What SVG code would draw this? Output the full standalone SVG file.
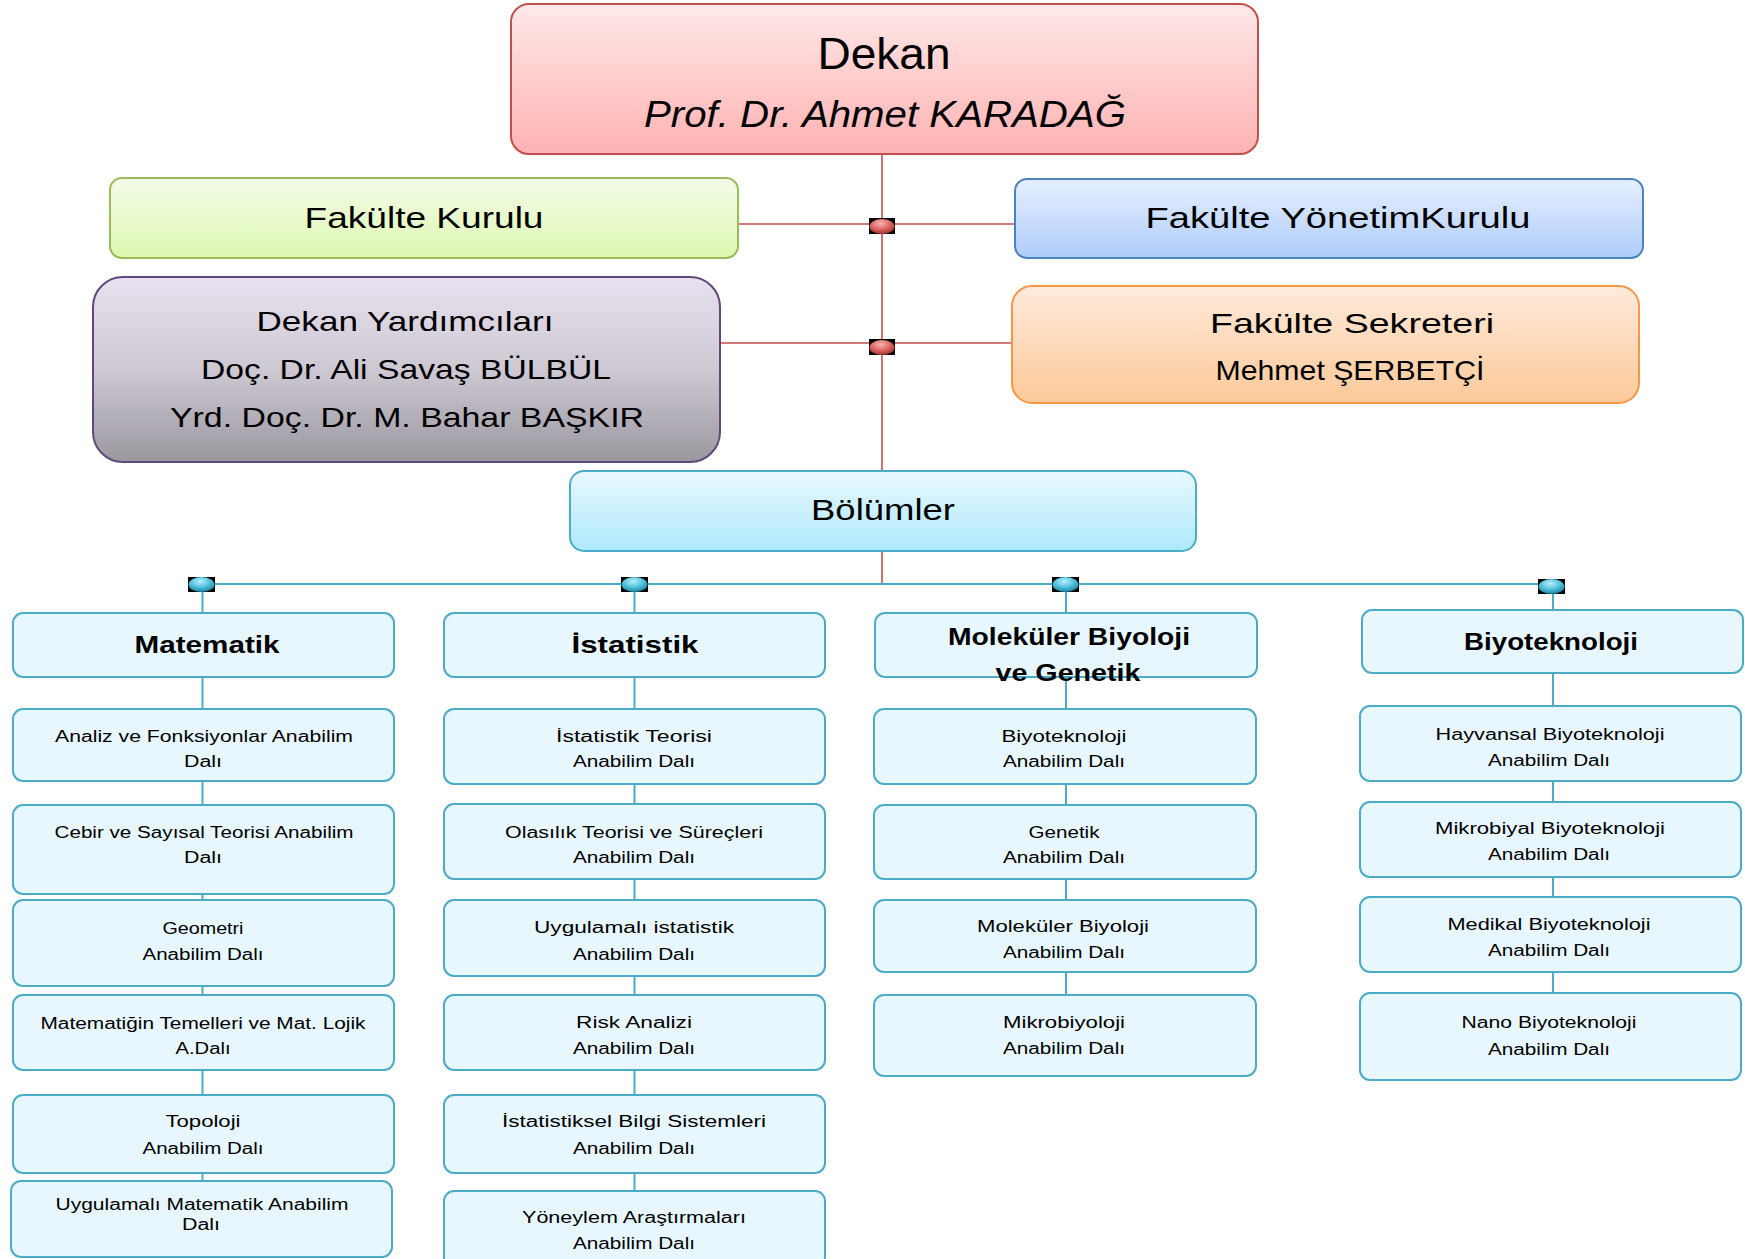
<svg xmlns="http://www.w3.org/2000/svg" width="1745" height="1259" viewBox="0 0 1745 1259">
<defs>
<style>
.t{font-family:"Liberation Sans",Arial,sans-serif;fill:#000;text-anchor:middle}
.c{font-size:16px}
.h{font-size:24px;font-weight:bold}
.dep{fill:#e7f7fd;stroke:#4bacc6;stroke-width:2}
.red{stroke:#c0504d;stroke-width:1.6;fill:none}
.teal{stroke:#4bacc6;stroke-width:2;fill:none}
</style>
<linearGradient id="gRed" x1="0" y1="0" x2="0" y2="1"><stop offset="0" stop-color="#ffe8e8"/><stop offset="1" stop-color="#ffb2b2"/></linearGradient>
<linearGradient id="gGreen" x1="0" y1="0" x2="0" y2="1"><stop offset="0" stop-color="#f3fbe8"/><stop offset="1" stop-color="#ddf8b0"/></linearGradient>
<linearGradient id="gBlue" x1="0" y1="0" x2="0" y2="1"><stop offset="0" stop-color="#e6efff"/><stop offset="1" stop-color="#aecdfa"/></linearGradient>
<linearGradient id="gPurple" x1="0" y1="0" x2="0" y2="1"><stop offset="0" stop-color="#e8e2f0"/><stop offset="0.5" stop-color="#cdc8d2"/><stop offset="1" stop-color="#9b979f"/></linearGradient>
<linearGradient id="gOrange" x1="0" y1="0" x2="0" y2="1"><stop offset="0" stop-color="#ffeadc"/><stop offset="1" stop-color="#fcc998"/></linearGradient>
<linearGradient id="gCyan" x1="0" y1="0" x2="0" y2="1"><stop offset="0" stop-color="#e8f9fe"/><stop offset="1" stop-color="#ade9fb"/></linearGradient>
<radialGradient id="kRed" cx="0.45" cy="0.3" r="0.7"><stop offset="0" stop-color="#f9b4b4"/><stop offset="0.6" stop-color="#d9605c"/><stop offset="1" stop-color="#9c3532"/></radialGradient>
<radialGradient id="kCyan" cx="0.45" cy="0.3" r="0.7"><stop offset="0" stop-color="#b6f0fb"/><stop offset="0.6" stop-color="#48bcd8"/><stop offset="1" stop-color="#1d7f9c"/></radialGradient>
</defs>

<g id="connectors">
<line class="red" x1="882" y1="154" x2="882" y2="584"/>
<line class="red" x1="738" y1="224" x2="1015" y2="224"/>
<line class="red" x1="720" y1="343" x2="1012" y2="343"/>
<line class="teal" x1="202" y1="584" x2="1553" y2="584"/>
<line class="teal" x1="202.5" y1="584" x2="202.5" y2="1181"/>
<line class="teal" x1="634.5" y1="584" x2="634.5" y2="1191"/>
<line class="teal" x1="1066" y1="584" x2="1066" y2="995"/>
<line class="teal" x1="1553" y1="586" x2="1553" y2="993"/>
<g id="knobs">
<rect x="869" y="218" width="26" height="16" fill="#000"/><ellipse cx="882" cy="226.5" rx="12.5" ry="7.5" fill="url(#kRed)"/>
<rect x="869" y="339" width="26" height="16" fill="#000"/><ellipse cx="882" cy="347.5" rx="12.5" ry="7.5" fill="url(#kRed)"/>
<rect x="188" y="577" width="27" height="15" fill="#000"/><ellipse cx="201.5" cy="584.5" rx="13" ry="7.5" fill="url(#kCyan)"/>
<rect x="621" y="577" width="27" height="15" fill="#000"/><ellipse cx="634.5" cy="584.5" rx="13" ry="7.5" fill="url(#kCyan)"/>
<rect x="1052" y="577" width="27" height="15" fill="#000"/><ellipse cx="1065.5" cy="584.5" rx="13" ry="7.5" fill="url(#kCyan)"/>
<rect x="1538" y="579" width="27" height="15" fill="#000"/><ellipse cx="1551.5" cy="586.5" rx="13" ry="7.5" fill="url(#kCyan)"/>
</g>
</g>

<g id="dekan">
<rect x="511" y="4" width="747" height="150" rx="18" fill="url(#gRed)" stroke="#c0504d" stroke-width="2"/>
<text class="t" x="884" y="69" font-size="44" textLength="133" lengthAdjust="spacingAndGlyphs">Dekan</text>
<text class="t" x="885" y="127" font-size="37" font-style="italic" textLength="482" lengthAdjust="spacingAndGlyphs">Prof. Dr. Ahmet KARADAĞ</text>
</g>

<g id="fakulte-kurulu">
<rect x="110" y="178" width="628" height="80" rx="12" fill="url(#gGreen)" stroke="#9bbb59" stroke-width="2"/>
<text class="t" x="424" y="228" font-size="29" textLength="239" lengthAdjust="spacingAndGlyphs">Fakülte Kurulu</text>
</g>

<g id="fakulte-yonetim-kurulu">
<rect x="1015" y="179" width="628" height="79" rx="12" fill="url(#gBlue)" stroke="#4f81bd" stroke-width="2"/>
<text class="t" x="1338" y="228" font-size="29" textLength="385" lengthAdjust="spacingAndGlyphs">Fakülte YönetimKurulu</text>
</g>

<g id="dekan-yardimcilari">
<rect x="93" y="277" width="627" height="185" rx="30" fill="url(#gPurple)" stroke="#5f497a" stroke-width="2"/>
<text class="t" x="405" y="331" font-size="28" textLength="297" lengthAdjust="spacingAndGlyphs">Dekan Yardımcıları</text>
<text class="t" x="406" y="379" font-size="28" textLength="410" lengthAdjust="spacingAndGlyphs">Doç. Dr. Ali Savaş BÜLBÜL</text>
<text class="t" x="407" y="427" font-size="28" textLength="474" lengthAdjust="spacingAndGlyphs">Yrd. Doç. Dr. M. Bahar BAŞKIR</text>
</g>

<g id="fakulte-sekreteri">
<rect x="1012" y="286" width="627" height="117" rx="20" fill="url(#gOrange)" stroke="#f79646" stroke-width="2"/>
<text class="t" x="1352" y="333" font-size="28" textLength="284" lengthAdjust="spacingAndGlyphs">Fakülte Sekreteri</text>
<text class="t" x="1350" y="380" font-size="28" textLength="269" lengthAdjust="spacingAndGlyphs">Mehmet ŞERBETÇİ</text>
</g>

<g id="bolumler">
<rect x="570" y="471" width="626" height="80" rx="14" fill="url(#gCyan)" stroke="#4bacc6" stroke-width="2"/>
<text class="t" x="883" y="520" font-size="29" textLength="144" lengthAdjust="spacingAndGlyphs">Bölümler</text>
</g>

<!-- Matematik -->
<g id="matematik">
<rect class="dep" x="13" y="613" width="381" height="64" rx="10"/>
<text class="t h" x="207" y="653" textLength="145" lengthAdjust="spacingAndGlyphs">Matematik</text>
</g>
<g id="mat-analiz">
<rect class="dep" x="13" y="709" width="381" height="72" rx="10"/>
<text class="t c" x="204" y="742" textLength="298" lengthAdjust="spacingAndGlyphs">Analiz ve Fonksiyonlar Anabilim</text>
<text class="t c" x="203" y="767" textLength="38" lengthAdjust="spacingAndGlyphs">Dalı</text>
</g>
<g id="mat-cebir">
<rect class="dep" x="13" y="805" width="381" height="89" rx="10"/>
<text class="t c" x="204" y="838" textLength="299" lengthAdjust="spacingAndGlyphs">Cebir ve Sayısal Teorisi Anabilim</text>
<text class="t c" x="203" y="863" textLength="38" lengthAdjust="spacingAndGlyphs">Dalı</text>
</g>
<g id="mat-geometri">
<rect class="dep" x="13" y="900" width="381" height="86" rx="10"/>
<text class="t c" x="203" y="934" textLength="81" lengthAdjust="spacingAndGlyphs">Geometri</text>
<text class="t c" x="203" y="960" textLength="121" lengthAdjust="spacingAndGlyphs">Anabilim Dalı</text>
</g>
<g id="mat-temeller">
<rect class="dep" x="13" y="995" width="381" height="75" rx="10"/>
<text class="t c" x="203" y="1029" textLength="325" lengthAdjust="spacingAndGlyphs">Matematiğin Temelleri ve Mat. Lojik</text>
<text class="t c" x="203" y="1054" textLength="55" lengthAdjust="spacingAndGlyphs">A.Dalı</text>
</g>
<g id="mat-topoloji">
<rect class="dep" x="13" y="1095" width="381" height="78" rx="10"/>
<text class="t c" x="203" y="1127" textLength="75" lengthAdjust="spacingAndGlyphs">Topoloji</text>
<text class="t c" x="203" y="1154" textLength="121" lengthAdjust="spacingAndGlyphs">Anabilim Dalı</text>
</g>
<g id="mat-uygulamali">
<rect class="dep" x="11" y="1181" width="381" height="76" rx="10"/>
<text class="t c" x="202" y="1210" textLength="293" lengthAdjust="spacingAndGlyphs">Uygulamalı Matematik Anabilim</text>
<text class="t c" x="201" y="1230" textLength="38" lengthAdjust="spacingAndGlyphs">Dalı</text>
</g>

<!-- Istatistik -->
<g id="istatistik">
<rect class="dep" x="444" y="613" width="381" height="64" rx="10"/>
<text class="t h" x="635" y="653" textLength="127" lengthAdjust="spacingAndGlyphs">İstatistik</text>
</g>
<g id="ist-teori">
<rect class="dep" x="444" y="709" width="381" height="75" rx="10"/>
<text class="t c" x="634" y="742" textLength="156" lengthAdjust="spacingAndGlyphs">İstatistik Teorisi</text>
<text class="t c" x="634" y="767" textLength="122" lengthAdjust="spacingAndGlyphs">Anabilim Dalı</text>
</g>
<g id="ist-olasilik">
<rect class="dep" x="444" y="804" width="381" height="75" rx="10"/>
<text class="t c" x="634" y="838" textLength="258" lengthAdjust="spacingAndGlyphs">Olasılık Teorisi ve Süreçleri</text>
<text class="t c" x="634" y="863" textLength="122" lengthAdjust="spacingAndGlyphs">Anabilim Dalı</text>
</g>
<g id="ist-uygulamali">
<rect class="dep" x="444" y="900" width="381" height="76" rx="10"/>
<text class="t c" x="634" y="933" textLength="200" lengthAdjust="spacingAndGlyphs">Uygulamalı istatistik</text>
<text class="t c" x="634" y="960" textLength="122" lengthAdjust="spacingAndGlyphs">Anabilim Dalı</text>
</g>
<g id="ist-risk">
<rect class="dep" x="444" y="995" width="381" height="75" rx="10"/>
<text class="t c" x="634" y="1028" textLength="116" lengthAdjust="spacingAndGlyphs">Risk Analizi</text>
<text class="t c" x="634" y="1054" textLength="122" lengthAdjust="spacingAndGlyphs">Anabilim Dalı</text>
</g>
<g id="ist-bilgi">
<rect class="dep" x="444" y="1095" width="381" height="78" rx="10"/>
<text class="t c" x="634" y="1127" textLength="264" lengthAdjust="spacingAndGlyphs">İstatistiksel Bilgi Sistemleri</text>
<text class="t c" x="634" y="1154" textLength="122" lengthAdjust="spacingAndGlyphs">Anabilim Dalı</text>
</g>
<g id="ist-yoneylem">
<rect class="dep" x="444" y="1191" width="381" height="76" rx="10"/>
<text class="t c" x="634" y="1223" textLength="224" lengthAdjust="spacingAndGlyphs">Yöneylem Araştırmaları</text>
<text class="t c" x="634" y="1249" textLength="122" lengthAdjust="spacingAndGlyphs">Anabilim Dalı</text>
</g>

<!-- Molekuler Biyoloji ve Genetik -->
<g id="molekuler">
<rect class="dep" x="875" y="613" width="382" height="64" rx="10"/>
<text class="t h" x="1069" y="645" textLength="242" lengthAdjust="spacingAndGlyphs">Moleküler Biyoloji</text>
<text class="t h" x="1068" y="681" textLength="145" lengthAdjust="spacingAndGlyphs">ve Genetik</text>
</g>
<g id="mol-biyoteknoloji">
<rect class="dep" x="874" y="709" width="382" height="75" rx="10"/>
<text class="t c" x="1064" y="742" textLength="125" lengthAdjust="spacingAndGlyphs">Biyoteknoloji</text>
<text class="t c" x="1064" y="767" textLength="122" lengthAdjust="spacingAndGlyphs">Anabilim Dalı</text>
</g>
<g id="mol-genetik">
<rect class="dep" x="874" y="805" width="382" height="74" rx="10"/>
<text class="t c" x="1064" y="838" textLength="71" lengthAdjust="spacingAndGlyphs">Genetik</text>
<text class="t c" x="1064" y="863" textLength="122" lengthAdjust="spacingAndGlyphs">Anabilim Dalı</text>
</g>
<g id="mol-molekuler">
<rect class="dep" x="874" y="900" width="382" height="72" rx="10"/>
<text class="t c" x="1063" y="932" textLength="172" lengthAdjust="spacingAndGlyphs">Moleküler Biyoloji</text>
<text class="t c" x="1064" y="958" textLength="122" lengthAdjust="spacingAndGlyphs">Anabilim Dalı</text>
</g>
<g id="mol-mikrobiyoloji">
<rect class="dep" x="874" y="995" width="382" height="81" rx="10"/>
<text class="t c" x="1064" y="1028" textLength="122" lengthAdjust="spacingAndGlyphs">Mikrobiyoloji</text>
<text class="t c" x="1064" y="1054" textLength="122" lengthAdjust="spacingAndGlyphs">Anabilim Dalı</text>
</g>

<!-- Biyoteknoloji -->
<g id="biyoteknoloji">
<rect class="dep" x="1362" y="610" width="381" height="63" rx="10"/>
<text class="t h" x="1551" y="650" textLength="174" lengthAdjust="spacingAndGlyphs">Biyoteknoloji</text>
</g>
<g id="bio-hayvansal">
<rect class="dep" x="1360" y="706" width="381" height="75" rx="10"/>
<text class="t c" x="1550" y="740" textLength="229" lengthAdjust="spacingAndGlyphs">Hayvansal Biyoteknoloji</text>
<text class="t c" x="1549" y="766" textLength="122" lengthAdjust="spacingAndGlyphs">Anabilim Dalı</text>
</g>
<g id="bio-mikrobiyal">
<rect class="dep" x="1360" y="802" width="381" height="75" rx="10"/>
<text class="t c" x="1550" y="834" textLength="230" lengthAdjust="spacingAndGlyphs">Mikrobiyal Biyoteknoloji</text>
<text class="t c" x="1549" y="860" textLength="122" lengthAdjust="spacingAndGlyphs">Anabilim Dalı</text>
</g>
<g id="bio-medikal">
<rect class="dep" x="1360" y="897" width="381" height="75" rx="10"/>
<text class="t c" x="1549" y="930" textLength="203" lengthAdjust="spacingAndGlyphs">Medikal Biyoteknoloji</text>
<text class="t c" x="1549" y="956" textLength="122" lengthAdjust="spacingAndGlyphs">Anabilim Dalı</text>
</g>
<g id="bio-nano">
<rect class="dep" x="1360" y="993" width="381" height="87" rx="10"/>
<text class="t c" x="1549" y="1028" textLength="175" lengthAdjust="spacingAndGlyphs">Nano Biyoteknoloji</text>
<text class="t c" x="1549" y="1055" textLength="122" lengthAdjust="spacingAndGlyphs">Anabilim Dalı</text>
</g>
</svg>
